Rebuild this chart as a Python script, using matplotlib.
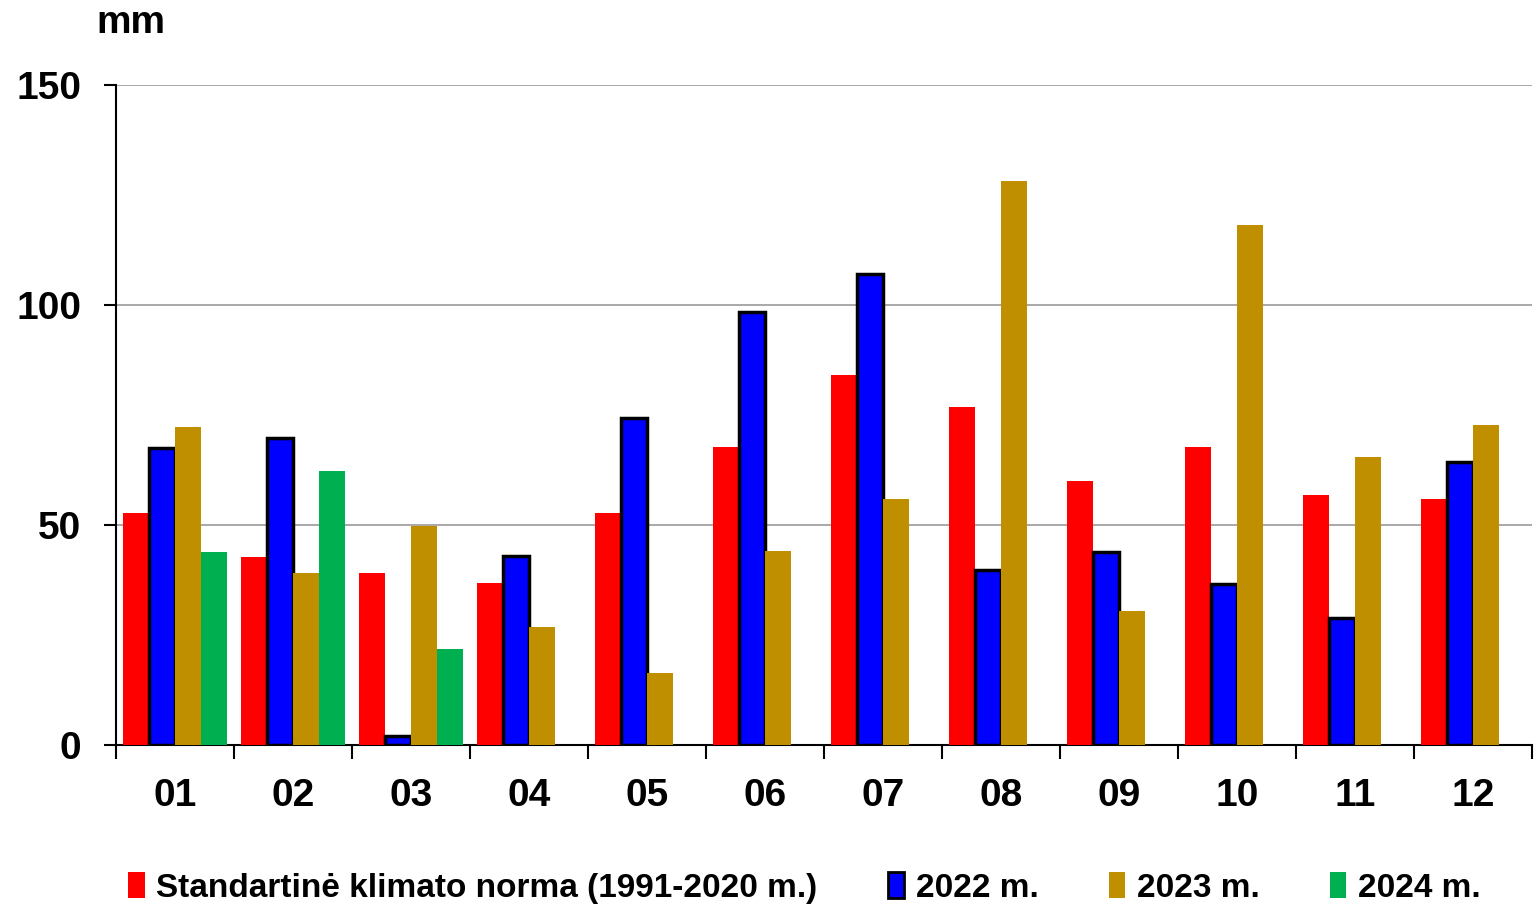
import numpy as np
import matplotlib.pyplot as plt
from matplotlib.patches import Patch

months = ['01', '02', '03', '04', '05', '06', '07', '08', '09', '10', '11', '12']
norma = [52.7, 42.7, 39.1, 36.8, 52.7, 67.7, 84.1, 76.8, 60.0, 67.7, 56.8, 55.9]
y2022 = [67.5, 69.8, 2.0, 43.0, 74.3, 98.4, 107.0, 39.8, 43.9, 36.6, 28.9, 64.3]
y2023 = [72.3, 39.1, 49.8, 26.8, 16.4, 44.1, 55.9, 128.2, 30.5, 118.2, 65.5, 72.7]
y2024 = [43.9, 62.3, 21.8]

labels = ['Standartinė klimato norma (1991-2020 m.)', '2022 m.', '2023 m.', '2024 m.']
colors = ['#ff0000', '#0000ff', '#bf8f00', '#00b050']

plt.rcParams['font.family'] = ['Liberation Sans', 'DejaVu Sans']
plt.rcParams['font.weight'] = 'bold'

fig = plt.figure(figsize=(15.35, 9.06), dpi=100)
ax = fig.add_axes([0.0756, 0.1777, 0.9225, 0.7285])

x = np.arange(len(months))
w = 0.22
ax.bar(x - 1.5 * w, norma, w, color=colors[0], zorder=3)
ax.bar(x - 0.5 * w, y2022, w, color=colors[1], edgecolor='black', linewidth=2.5, zorder=3)
ax.bar(x + 0.5 * w, y2023, w, color=colors[2], zorder=3)
ax.bar(np.arange(len(y2024)) + 1.5 * w, y2024, w, color=colors[3], zorder=3)

ax.set_xlim(-0.5, len(months) - 0.5)
ax.set_ylim(0, 150)
ax.set_yticks([0, 50, 100, 150])
ax.yaxis.grid(True, color='#999999', linewidth=1.2, zorder=0)
ax.spines['top'].set_visible(False)
ax.spines['right'].set_visible(False)
ax.spines['left'].set_linewidth(1.5)
ax.spines['bottom'].set_linewidth(1.5)

ax.set_xticks(np.arange(len(months) + 1) - 0.5)
ax.set_xticklabels([])
ax.set_xticks(x, minor=True)
ax.set_xticklabels(months, minor=True)
ax.tick_params(axis='x', which='major', length=10, width=1.5, direction='out')
ax.tick_params(axis='x', which='minor', length=0, labelsize=28, pad=24)
ax.tick_params(axis='y', length=9, width=1.5, labelsize=28, pad=16)

fig.text(0.0625, 0.975, 'mm', fontsize=28, fontweight='bold', va='center', ha='left')

handles = [Patch(facecolor=colors[0]),
           Patch(facecolor=colors[1], edgecolor='black', linewidth=2),
           Patch(facecolor=colors[2]),
           Patch(facecolor=colors[3])]
fig.legend(handles, labels, loc='center', bbox_to_anchor=(0.524, 0.02), ncol=4, frameon=False,
           fontsize=24, handlelength=0.5, handleheight=0.8, handletextpad=0.35, columnspacing=2.1)

fig.savefig('out.png', dpi=100)
